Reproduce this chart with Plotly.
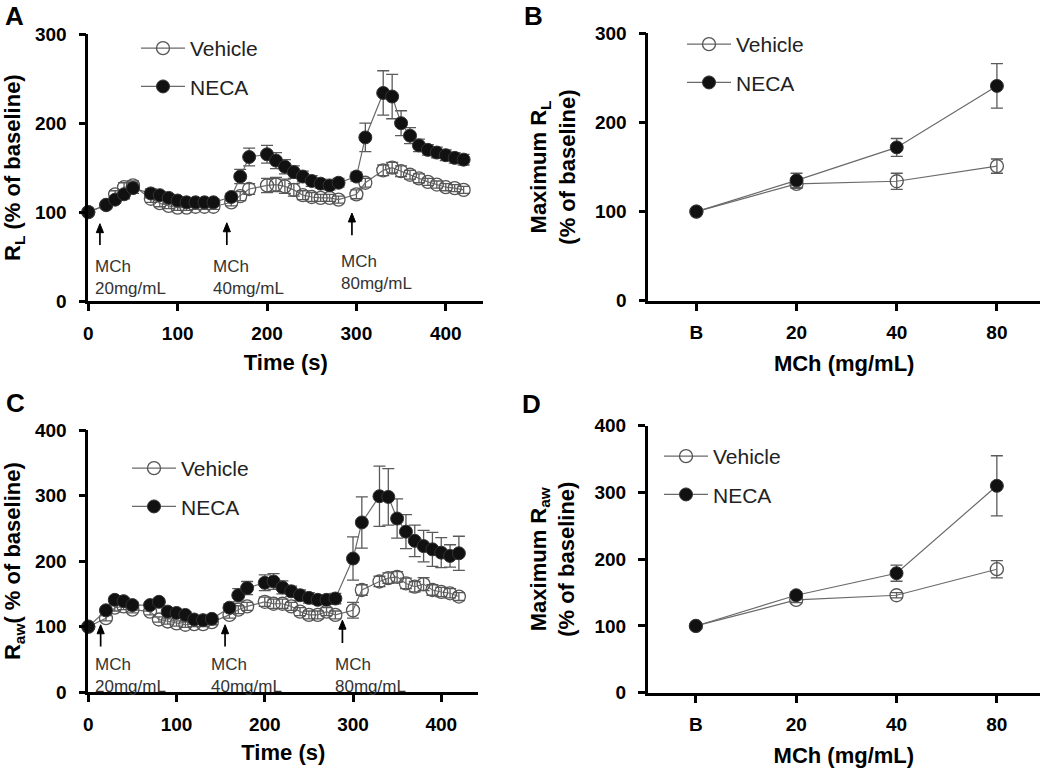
import plotly.graph_objects as go

# ---------------- data ----------------
time_s = [0, 20, 30, 40, 50, 70, 80, 90, 100, 110, 120, 130, 140, 160, 170, 180,
          200, 210, 220, 230, 240, 250, 260, 270, 280, 300, 310, 330, 340, 350,
          360, 370, 380, 390, 400, 410, 420]

# Panel A: R_L (% of baseline)
rl_vehicle = [100, 108, 120, 128, 130, 115, 110, 107, 105, 105, 106, 106, 106, 111, 118, 126,
              130, 131, 129, 125, 119, 117, 116, 116, 114, 120, 133, 147, 150, 146,
              142, 138, 134, 131, 128, 127, 125]
rl_vehicle_sem = [0, 3, 4, 5, 5, 4, 4, 3, 3, 3, 3, 3, 3, 4, 5, 6,
                  8, 8, 8, 7, 5, 5, 4, 4, 4, 5, 5, 6, 6, 6,
                  5, 5, 4, 4, 4, 4, 4]
rl_neca = [100, 108, 114, 120, 127, 121, 119, 116, 113, 111, 111, 111, 111, 117, 140, 162,
           165, 158, 151, 145, 140, 135, 132, 130, 133, 140, 184, 234, 230, 200,
           186, 175, 170, 167, 164, 161, 159]
rl_neca_sem = [0, 4, 4, 5, 6, 5, 4, 4, 4, 4, 4, 4, 4, 4, 8, 10,
               10, 9, 8, 7, 6, 6, 5, 5, 5, 5, 16, 25, 25, 14,
               9, 7, 6, 6, 6, 6, 6]

# Panel C: R_aw (% of baseline)
raw_vehicle = [100, 113, 129, 131, 126, 123, 111, 108, 105, 103, 104, 104, 107, 118, 126, 131,
               138, 135, 135, 131, 123, 118, 118, 123, 118, 125, 156, 169, 174, 176,
               166, 161, 165, 156, 153, 151, 146]
raw_vehicle_sem = [0, 4, 5, 5, 5, 5, 4, 4, 4, 4, 4, 4, 4, 5, 6, 6,
                   7, 7, 7, 6, 6, 6, 6, 6, 6, 12, 8, 8, 8, 8,
                   8, 8, 10, 8, 7, 7, 6]
raw_neca = [100, 125, 141, 139, 133, 133, 138, 123, 121, 118, 111, 110, 112, 129, 148, 159,
            167, 169, 160, 154, 148, 144, 141, 141, 143, 204, 259, 299, 298, 265,
            245, 231, 223, 218, 213, 208, 212]
raw_neca_sem = [0, 5, 5, 5, 5, 5, 5, 5, 5, 5, 5, 4, 4, 6, 10, 10,
                12, 12, 10, 8, 8, 8, 7, 7, 8, 33, 39, 46, 43, 30,
                26, 24, 24, 26, 23, 17, 26]

# Panels B & D: maximum response per MCh dose
dose_labels = ["B", "20", "40", "80"]
max_rl_vehicle = [100, 131, 134, 151]
max_rl_vehicle_sem = [0, 5, 9, 8]
max_rl_neca = [100, 135, 172, 241]
max_rl_neca_sem = [0, 8, 10, 25]
max_raw_vehicle = [100, 139, 146, 185]
max_raw_vehicle_sem = [0, 4, 4, 13]
max_raw_neca = [100, 146, 179, 310]
max_raw_neca_sem = [0, 5, 12, 45]

series_names = ["Vehicle", "NECA"]
mch_doses = ["20mg/mL", "40mg/mL", "80mg/mL"]
mch_times_A = [13, 155, 295]
mch_times_C = [14, 155, 288]

# ---------------- styling ----------------
W, H = 1050, 769
FONT = "Liberation Sans, Arial, sans-serif"
LINE_C = "#6a6a6a"
ERR_C = "#5a5a5a"


def px_x(p):
    return p / W


def px_y(p):
    return 1 - p / H


fig = go.Figure()


def add_pair(x, yv, ev, yn, en, xa, ya, leg):
    fig.add_trace(go.Scatter(
        x=x, y=yv, name=series_names[0], mode="lines+markers",
        xaxis=xa, yaxis=ya, legend=leg, legendgroup=leg + "v",
        line=dict(color=LINE_C, width=1.2),
        marker=dict(symbol="circle-open", size=13, color="#555555",
                    line=dict(width=1.3, color="#555555")),
        error_y=dict(type="data", array=ev, visible=True, color=ERR_C,
                     thickness=1.3, width=6),
        cliponaxis=False))
    fig.add_trace(go.Scatter(
        x=x, y=yn, name=series_names[1], mode="lines+markers",
        xaxis=xa, yaxis=ya, legend=leg, legendgroup=leg + "n",
        line=dict(color=LINE_C, width=1.2),
        marker=dict(symbol="circle", size=13, color="#111111",
                    line=dict(width=1, color="#333333")),
        error_y=dict(type="data", array=en, visible=True, color=ERR_C,
                     thickness=1.3, width=6),
        cliponaxis=False))


add_pair(time_s, rl_vehicle, rl_vehicle_sem, rl_neca, rl_neca_sem, "x", "y", "legend")
add_pair(dose_labels, max_rl_vehicle, max_rl_vehicle_sem, max_rl_neca, max_rl_neca_sem, "x2", "y2", "legend2")
add_pair(time_s, raw_vehicle, raw_vehicle_sem, raw_neca, raw_neca_sem, "x3", "y3", "legend3")
add_pair(dose_labels, max_raw_vehicle, max_raw_vehicle_sem, max_raw_neca, max_raw_neca_sem, "x4", "y4", "legend4")

tickfont = dict(family=FONT, size=19, color="black", weight="bold")
titlefont = dict(family=FONT, size=22, color="black", weight="bold")

axis_common = dict(showgrid=False, zeroline=False, showline=True, linecolor="black",
                   linewidth=2.6, ticks="outside", ticklen=7, tickwidth=2.6,
                   tickcolor="black", tickfont=tickfont, automargin=False)

# pixel geometry of the four plot areas (left, right, top, bottom)
A_box = (88.3, 483.3, 34.3, 301.0)
B_box = (648.3, 1040.0, 33.3, 300.7)
C_box = (88.3, 478.3, 430.0, 692.3)
D_box = (647.7, 1040.0, 425.7, 692.7)
T_RANGE = [0, 442]
CAT_RANGE = [-0.48, 3.43]


def dom(box):
    l, r, t, b = box
    return [px_x(l), px_x(r)], [px_y(b), px_y(t)]


xa_d, ya_d = dom(A_box)
xb_d, yb_d = dom(B_box)
xc_d, yc_d = dom(C_box)
xd_d, yd_d = dom(D_box)

layout = dict(
    width=W, height=H, margin=dict(l=0, r=0, t=0, b=0),
    paper_bgcolor="white", plot_bgcolor="white", showlegend=True,
    xaxis=dict(axis_common, domain=xa_d, range=T_RANGE,
               tickvals=[0, 100, 200, 300, 400], anchor="y", ticklabelstandoff=6,
               title=dict(text="Time (s)", font=titlefont, standoff=13)),
    yaxis=dict(axis_common, domain=ya_d, range=[0, 300],
               tickvals=[0, 100, 200, 300], anchor="x", ticklabelstandoff=8,
               title=dict(text="R<sub>L</sub> (% of baseline)", font=titlefont, standoff=12)),
    xaxis2=dict(axis_common, domain=xb_d, type="category",
                range=CAT_RANGE, anchor="y2", ticklabelstandoff=6,
                title=dict(text="MCh (mg/mL)", font=titlefont, standoff=14)),
    yaxis2=dict(axis_common, domain=yb_d, range=[0, 300],
                tickvals=[0, 100, 200, 300], anchor="x2", ticklabelstandoff=8,
                title=dict(text="Maximum R<sub>L</sub><br>(% of baseline)", font=titlefont, standoff=14)),
    xaxis3=dict(axis_common, domain=xc_d, range=T_RANGE,
                tickvals=[0, 100, 200, 300, 400], anchor="y3", ticklabelstandoff=6,
                title=dict(text="Time (s)", font=titlefont, standoff=11)),
    yaxis3=dict(axis_common, domain=yc_d, range=[0, 400],
                tickvals=[0, 100, 200, 300, 400], anchor="x3", ticklabelstandoff=8,
                title=dict(text="R<sub>aw</sub>( % of baseline)", font=titlefont, standoff=12)),
    xaxis4=dict(axis_common, domain=xd_d, type="category",
                range=CAT_RANGE, anchor="y4", ticklabelstandoff=6,
                title=dict(text="MCh (mg/mL)", font=titlefont, standoff=14)),
    yaxis4=dict(axis_common, domain=yd_d, range=[0, 400],
                tickvals=[0, 100, 200, 300, 400], anchor="x4", ticklabelstandoff=8,
                title=dict(text="Maximum R<sub>aw</sub><br>(% of baseline)", font=titlefont, standoff=14)),
)

legfont = dict(family=FONT, size=21, color="#222222")
leg_common = dict(font=legfont, bgcolor="rgba(0,0,0,0)", borderwidth=0,
                  tracegroupgap=8, xanchor="left", yanchor="top", itemwidth=44)
layout["legend"] = dict(leg_common, x=px_x(136), y=px_y(28))
layout["legend2"] = dict(leg_common, x=px_x(682), y=px_y(24))
layout["legend3"] = dict(leg_common, x=px_x(127), y=px_y(448))
layout["legend4"] = dict(leg_common, x=px_x(659), y=px_y(436))

fig.update_layout(**layout)

# panel letters
letters = [("A", 3, -1), ("B", 522, -1), ("C", 4, 386), ("D", 520, 387)]
for txt, lx, ly in letters:
    fig.add_annotation(text=txt, xref="paper", yref="paper", x=px_x(lx), y=px_y(ly),
                       xanchor="left", yanchor="top", showarrow=False,
                       font=dict(family=FONT, size=26, color="black", weight="bold"))


# MCh arrows (drawn as shapes) + labels
def add_arrow(xa, ya, box, yrange, t, tip, tail):
    l, r, top, b = box
    sx = (T_RANGE[1] - T_RANGE[0]) / (r - l)      # data units per px (x)
    sy = (yrange[1] - yrange[0]) / (b - top)      # data units per px (y)
    head_h = 9 * sy
    half_w = 3.6 * sx
    fig.add_shape(type="line", xref=xa, yref=ya, x0=t, x1=t, y0=tail, y1=tip - head_h * 0.6,
                  line=dict(color="black", width=1.7))
    fig.add_shape(type="path", xref=xa, yref=ya,
                  path=f"M {t - half_w} {tip - head_h} L {t} {tip} L {t + half_w} {tip - head_h} Z",
                  fillcolor="black", line=dict(color="black", width=1))


arrow_A = [(87, 63), (88, 63), (99, 74)]
text_A = [(5, 52), (137, 52), (280, 57)]
arrow_C = [(103, 70), (103, 70), (110, 75)]
text_C = [(5, 60), (137, 60), (277, 60)]

for i in range(3):
    add_arrow("x", "y", A_box, [0, 300], mch_times_A[i], *arrow_A[i])
    add_arrow("x3", "y3", C_box, [0, 400], mch_times_C[i], *arrow_C[i])
    for xa, ya, (lx, ly) in (("x", "y", text_A[i]), ("x3", "y3", text_C[i])):
        fig.add_annotation(x=lx, y=ly, xref=xa, yref=ya, xanchor="left", yanchor="top",
                           text="MCh<br>" + mch_doses[i], showarrow=False, align="left",
                           font=dict(family=FONT, size=17, color="#333333"))

fig.write_html("out.html", config={"displayModeBar": False},
               post_script="document.body.style.margin='0px';")
